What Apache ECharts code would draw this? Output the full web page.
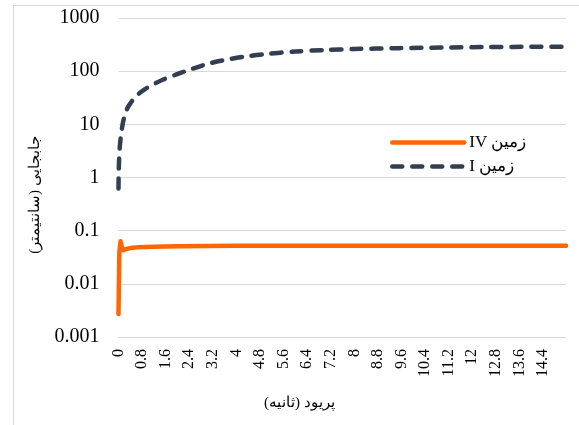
<!DOCTYPE html>
<html>
<head>
<meta charset="utf-8">
<script src="https://cdn.jsdelivr.net/npm/echarts@6/dist/echarts.min.js"></script>
<style>
html,body{margin:0;padding:0;background:#fff}
#wrap{position:relative;width:579px;height:425px;overflow:hidden}
#c{width:579px;height:425px}
#frame{position:absolute;left:13px;top:5px;width:700px;height:600px;border:1px solid #D9D9D9;pointer-events:none;box-sizing:border-box}
</style>
</head>
<body>
<div id="wrap"><div id="c"></div><div id="frame"></div></div>
<script>
// Series names (RTL embedded)
const seriesNames = ['\u202Bزمین IV\u202C', '\u202Bزمین I\u202C'];
const xTitle = '\u202Bپریود (ثانیه)\u202C';
const yTitle = '\u202Bجابجایی (سانتیمتر)\u202C';

// زمین IV (orange)
const tIV = [0, 0.03, 0.07, 0.11, 0.16, 0.25, 0.4, 0.7, 1.2, 2, 4, 8, 15.18];
const vIV = [0.0027, 0.04, 0.063, 0.05, 0.043, 0.045, 0.047, 0.049, 0.05, 0.051, 0.052, 0.052, 0.052];

// زمین I (dark blue dashed)
const tI = [0, 0.01, 0.04, 0.08, 0.14, 0.2, 0.3, 0.45, 0.65, 0.9, 1.2, 1.5, 1.9, 2.4, 3.0, 3.6, 4.3, 5.0, 6.0, 7.0, 8.0, 9.5, 11, 12.5, 14, 15.18];
const vI = [0.62, 1.5, 3.5, 6, 10, 14, 20, 27, 36, 46, 57, 69, 84, 106, 136, 162, 188, 210, 234, 250, 261, 271, 279, 284, 287, 289];

// Axis ticks
const yTicks = [0.001, 0.01, 0.1, 1, 10, 100, 1000];
const xMin = 0, xMax = 15.18, xStep = 0.8;

const serif = "'Times New Roman', 'Liberation Serif', 'DejaVu Serif', serif";
const chart = echarts.init(document.getElementById('c'), null, {renderer: 'canvas'});
chart.setOption({
  animation: false,
  backgroundColor: '#fff',
  grid: {left: 118.5, right: 13, top: 18, bottom: 88, containLabel: false},
  legend: {
    orient: 'vertical', left: 385, top: 129, itemWidth: 72, itemHeight: 14, itemGap: 7, itemTextGap: 3,
    textStyle: {fontFamily: serif, fontSize: 17, color: '#000'},
    itemStyle: {color: 'transparent', borderColor: 'transparent', borderWidth: 0},
    lineStyle: {width: 4.5, cap: 'round'},
    data: seriesNames
  },
  xAxis: {
    type: 'value', min: xMin, max: xMax, interval: xStep,
    name: xTitle, nameLocation: 'middle', nameGap: 59,
    nameTextStyle: {fontFamily: serif, fontSize: 15, color: '#000', padding: [0, 86, 0, 0]},
    axisLine: {show: true, lineStyle: {color: '#D9D9D9', width: 1}},
    axisTick: {show: false},
    splitLine: {show: false},
    axisLabel: {
      rotate: 90, margin: 12, fontFamily: serif, fontSize: 16, color: '#000',
      showMaxLabel: false,
      formatter: v => String(+v.toFixed(1))
    }
  },
  yAxis: {
    type: 'log', logBase: 10, min: yTicks[0], max: yTicks[yTicks.length - 1],
    name: yTitle, nameLocation: 'middle', nameGap: 76,
    nameTextStyle: {fontFamily: serif, fontSize: 15, color: '#000', padding: [0, 35, 0, 0]},
    axisLine: {show: false}, axisTick: {show: false},
    splitLine: {show: true, lineStyle: {color: '#D9D9D9', width: 1}},
    axisLabel: {
      margin: 19, fontFamily: serif, fontSize: 20, color: '#000',
      formatter: v => {
        const n = yTicks.find(t => Math.abs(Math.log10(t) - Math.log10(v)) < 1e-6);
        return n !== undefined ? String(n) : '';
      }
    }
  },
  series: [
    {
      name: seriesNames[0], type: 'line', symbol: 'none', smooth: false,
      data: tIV.map((t, i) => [t, vIV[i]]),
      lineStyle: {color: '#FF6600', width: 4.5, cap: 'round', join: 'round'},
      itemStyle: {color: '#FF6600'}, z: 3
    },
    {
      name: seriesNames[1], type: 'line', symbol: 'none', smooth: 0.3,
      data: tI.map((t, i) => [t, vI[i]]),
      lineStyle: {color: '#333F50', width: 4.5, type: [10, 10], cap: 'round', join: 'round'},
      itemStyle: {color: '#333F50'}, z: 2
    }
  ]
});
</script>
</body>
</html>
